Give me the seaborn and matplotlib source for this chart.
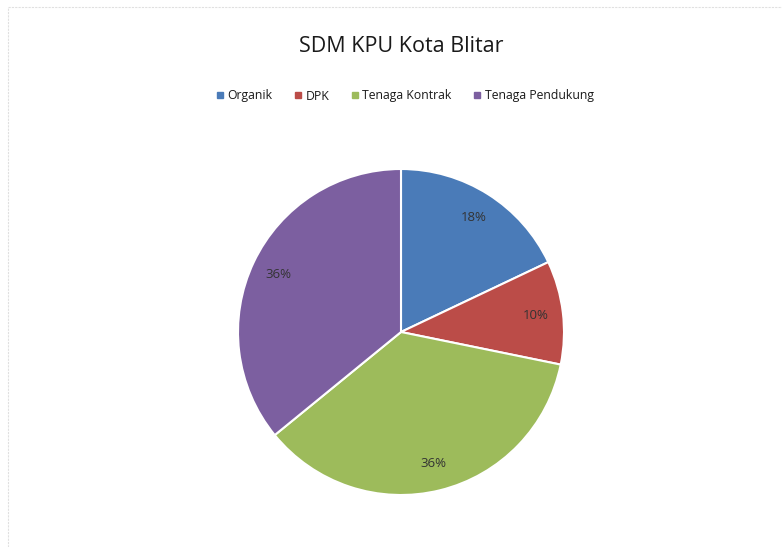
import matplotlib
matplotlib.use("Agg")
import matplotlib.pyplot as plt
import seaborn as sns
from matplotlib.lines import Line2D

sns.set_theme(style="white")
plt.rcParams['font.family'] = ['Open Sans', 'DejaVu Sans']

categories = ["Organik", "DPK", "Tenaga Kontrak", "Tenaga Pendukung"]
values = [7, 4, 14, 14]
colors = ["#4a7bb8", "#bb4c48", "#9dbb5b", "#7c5fa0"]
title = "SDM KPU Kota Blitar"

fig = plt.figure(figsize=(7.82, 5.47), dpi=100)
fig.patch.set_facecolor("white")

# faint chart border (top and left visible)
fig.add_artist(Line2D([8/782, 1.0], [1 - 7/547, 1 - 7/547], color="#e0e0e0", lw=0.8, ls=(0, (2, 1))))
fig.add_artist(Line2D([8/782, 8/782], [0.0, 1 - 7/547], color="#e0e0e0", lw=0.8, ls=(0, (2, 1))))

ax = fig.add_axes([238/782, 52/547, 326/782, 326/547])
wedges, texts, autotexts = ax.pie(
    values, colors=colors, startangle=90, counterclock=False, radius=1.0,
    autopct=lambda p: f"{p:.0f}%", pctdistance=0.83,
    wedgeprops=dict(edgecolor="white", linewidth=1.5),
    textprops=dict(fontsize=9.5, color="#333333"),
)
ax.set_xlim(-1.0, 1.0)
ax.set_ylim(-1.0, 1.0)
ax.set_aspect("equal")
ax.axis("off")

fig.text(401/782, 1 - 46/547, title, ha="center", va="center", fontsize=15.5, color="#1a1a1a")

handles = [Line2D([0], [0], marker="s", ls="", markersize=4, markerfacecolor=c, markeredgecolor=c)
           for c in colors]
fig.legend(handles, categories, loc="center", bbox_to_anchor=(405/782, 1 - 96/547), ncol=4,
           frameon=False, fontsize=8.8, handlelength=0.6, handletextpad=0.3, columnspacing=1.8,
           labelcolor="#1a1a1a")

fig.savefig("out.png", dpi=100, facecolor="white")
